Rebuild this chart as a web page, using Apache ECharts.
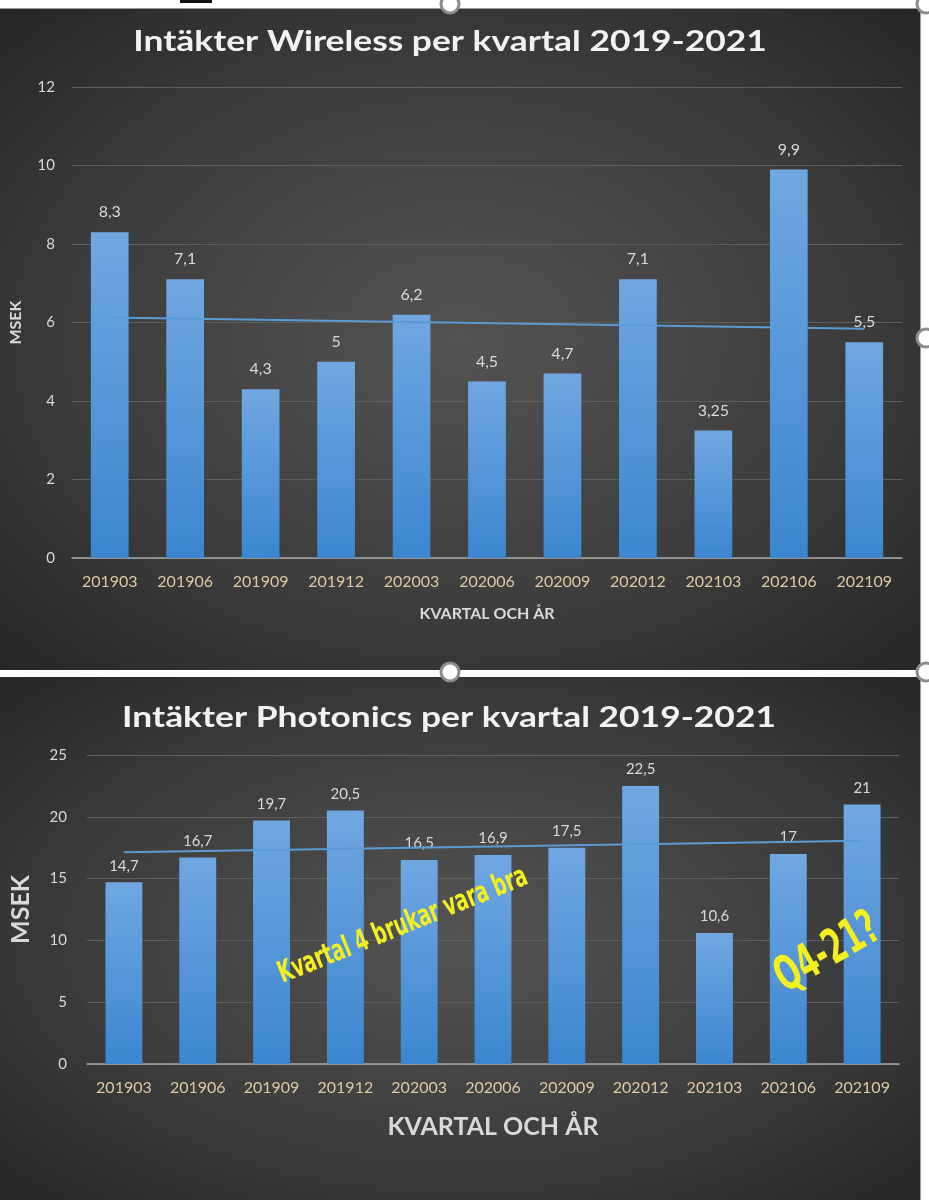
<!DOCTYPE html>
<html>
<head>
<meta charset="utf-8">
<script src="https://cdn.jsdelivr.net/npm/echarts@6/dist/echarts.min.js"></script>
<style>
  html, body { margin: 0; padding: 0; background: #fff; }
  .panel {
    position: absolute;
    left: 0;
    width: 920px;
    background: radial-gradient(ellipse at 50% 50%, #535353 0%, #3e3e3e 55%, #262626 100%);
    border-right: 1px solid #9a9a9a;
  }
  #p1 { top: 8px; height: 661px; border-top: 1px solid #9a9a9a; }
  #p2 { top: 677px; height: 523px; }
  #chart { position: absolute; left: 0; top: 0; width: 929px; height: 1200px; }
</style>
</head>
<body>
<div class="panel" id="p1"></div>
<div class="panel" id="p2"></div>
<div id="chart"></div>
<script>
// kvartal (år + månad)
const quarters = ["201903", "201906", "201909", "201912", "202003", "202006",
  "202009", "202012", "202103", "202106", "202109"];

// intäkter, MSEK
const wireless = [8.3, 7.1, 4.3, 5, 6.2, 4.5, 4.7, 7.1, 3.25, 9.9, 5.5];
const photonics = [14.7, 16.7, 19.7, 20.5, 16.5, 16.9, 17.5, 22.5, 10.6, 17, 21];

// trendlinjens ändpunkter, avlästa i bilden (första / sista kvartalet)
const wirelessTrend = [6.13, 5.84];
const photonicsTrend = [17.13, 18.07];

const titles = ["Intäkter Wireless per kvartal 2019-2021", "Intäkter Photonics per kvartal 2019-2021"];

const chart = echarts.init(document.getElementById("chart"));

const barColor = new echarts.graphic.LinearGradient(0, 0, 0, 1, [
  { offset: 0, color: "#70a7e1" },
  { offset: 1, color: "#3c86cf" },
]);

const fmt = (p) => String(p.value).replace(".", ",");

function barSeries(data, idx, size, dist) {
  return {
    type: "bar",
    xAxisIndex: idx,
    yAxisIndex: idx,
    data: data,
    barWidth: "50%",
    itemStyle: { color: barColor },
    label: {
      show: true,
      position: "top",
      distance: dist,
      color: "#d9d9d9",
      fontFamily: "Lato",
      fontSize: size,
      formatter: fmt,
    },
  };
}

function trendSeries(ends, idx) {
  return {
    type: "line",
    xAxisIndex: idx,
    yAxisIndex: idx,
    data: [[quarters[0], ends[0]], [quarters[quarters.length - 1], ends[1]]],
    symbol: "none",
    lineStyle: { color: "#5b9bd5", width: 2 },
    z: 5,
  };
}

function xAxis(idx, labelSize, nameSize, gap) {
  return {
    type: "category",
    gridIndex: idx,
    data: quarters,
    axisTick: { show: false },
    axisLine: { lineStyle: { color: "#a6a6a6", width: 1.5 } },
    axisLabel: { color: "#dcc8a2", fontFamily: "Lato", fontSize: labelSize, margin: 16 },
    name: "KVARTAL OCH ÅR",
    nameLocation: "middle",
    nameGap: gap,
    nameTextStyle: { color: "#d9d9d9", fontFamily: "Lato", fontWeight: "bold", fontSize: nameSize },
  };
}

function yAxis(idx, max, interval, labelSize, margin, nameSize, gap) {
  return {
    type: "value",
    gridIndex: idx,
    min: 0,
    max: max,
    interval: interval,
    axisLine: { show: false },
    axisTick: { show: false },
    splitLine: { lineStyle: { color: "#5e5e5e", width: 1 } },
    axisLabel: { color: "#d9d9d9", fontFamily: "Lato", fontSize: labelSize, margin: margin },
    name: "MSEK",
    nameLocation: "middle",
    nameGap: gap,
    nameRotate: 90,
    nameTextStyle: { color: "#d9d9d9", fontFamily: "Lato", fontWeight: "bold", fontSize: nameSize },
  };
}

function titleText(text, x, y) {
  return {
    type: "text",
    x: x, y: y, scaleX: 1.22,
    style: {
      text: text,
      fill: "#f2f2f2",
      font: "bold 29px Lato",
      align: "center", verticalAlign: "middle",
      shadowColor: "rgba(0,0,0,0.85)", shadowBlur: 3, shadowOffsetX: 1, shadowOffsetY: 2,
    },
    z: 50,
  };
}

function note(text, x, y, deg, size, sx) {
  return {
    type: "text",
    x: x, y: y, rotation: deg * Math.PI / 180, scaleX: sx,
    style: {
      text: text,
      fill: "#f4ef1f",
      font: "bold " + size + "px 'DejaVu Sans', sans-serif",
      align: "center", verticalAlign: "middle",
    },
    z: 50,
  };
}

function handle(x, y) {
  return {
    type: "circle",
    shape: { cx: x, cy: y, r: 9 },
    style: { fill: "#ffffff", stroke: "#8c8c8c", lineWidth: 3 },
    z: 100,
  };
}

chart.setOption({
  animation: false,
  grid: [
    { left: 70, top: 87, width: 832, height: 471 },
    { left: 83, top: 755, width: 816, height: 309 },
  ],
  xAxis: [xAxis(0, 16, 16, 48), xAxis(1, 16, 25, 50)],
  yAxis: [yAxis(0, 12, 2, 15, 17, 16, 48), yAxis(1, 25, 5, 15, 20, 25, 54)],
  series: [
    barSeries(wireless, 0, 16, 12),
    trendSeries(wirelessTrend, 0),
    barSeries(photonics, 1, 15, 9),
    trendSeries(photonicsTrend, 1),
  ],
  graphic: [
    titleText(titles[0], 450, 42),
    titleText(titles[1], 449, 718),
    note("Kvartal 4 brukar vara bra", 403, 926, 22, 30, 0.62),
    note("Q4-21?", 828, 954, 30, 48, 0.6),
    {
      type: "rect",
      shape: { x: 180, y: 0, width: 32, height: 3 },
      style: { fill: "#111111" },
    },
    handle(450, 4), handle(926, 4), handle(926, 338), handle(450, 672), handle(926, 672),
  ],
});
</script>
</body>
</html>
